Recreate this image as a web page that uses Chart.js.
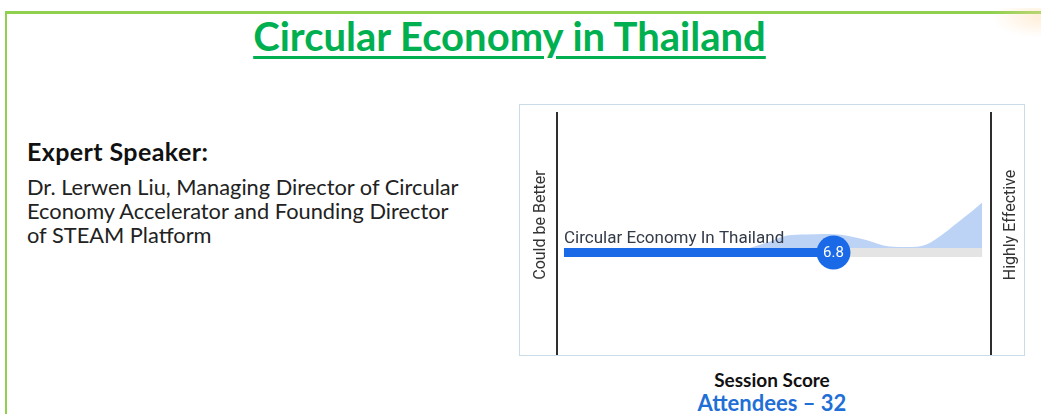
<!DOCTYPE html>
<html>
<head>
<meta charset="utf-8">
<script src="https://cdn.jsdelivr.net/npm/chart.js@4.4.1/dist/chart.umd.min.js"></script>
<style>
  body { margin: 0; width: 1041px; height: 414px; background: #fff; overflow: hidden; position: relative; font-family: Lato, sans-serif; }
  .frame { position: absolute; left: 5px; top: 11px; width: 1100px; height: 500px; border-left: 2px solid #8fd14f; border-top: 3px solid #8fd14f; }
  .glow { position: absolute; right: 0; top: 8px; width: 50px; height: 30px; background: radial-gradient(ellipse at 100% 30%, rgba(255, 218, 170, 0.45), rgba(255, 255, 255, 0) 70%); }
  #title { position: absolute; left: 0; width: 1019px; top: 12px; text-align: center; font-size: 40px; font-weight: 700; color: #00b050; }
  #title span { text-decoration: underline; text-decoration-thickness: 3px; text-underline-offset: 5px; }
  #speaker { position: absolute; left: 27px; top: 136px; font-size: 25px; font-weight: 700; color: #111; letter-spacing: 0.4px; }
  #bio { position: absolute; left: 27px; top: 175px; font-size: 21.8px; line-height: 24px; color: #222; }
  .box { position: absolute; left: 519px; top: 104px; width: 506px; height: 252px; box-sizing: border-box; border: 1px solid #c9dce8; }
  #wrap { position: absolute; left: 519px; top: 104px; width: 506px; height: 252px; }
  #score { position: absolute; left: 0; width: 1544px; top: 368px; text-align: center; font-size: 19px; font-weight: 700; color: #111; }
  #att { position: absolute; left: 0; width: 1544px; top: 389px; text-align: center; font-size: 22px; font-weight: 700; color: #1f6fd6; }
</style>
</head>
<body>
<div class="frame"></div>
<div class="glow"></div>
<div id="title"><span>Circular Economy in Thailand</span></div>
<div id="speaker">Expert Speaker:</div>
<div id="bio">Dr. Lerwen Liu, Managing Director of Circular<br>Economy Accelerator and Founding Director<br>of STEAM Platform</div>
<div class="box"></div>
<div id="wrap"><canvas id="chart"></canvas></div>
<div id="score">Session Score</div>
<div id="att">Attendees – 32</div>

<script>
// score scale runs from 1 to 10
const scoreMin = 1;
const scoreMax = 10;
const sessionName = "Circular Economy In Thailand";
const sessionScore = 6.8;
const leftLabel = "Could be Better";
const rightLabel = "Highly Effective";

// response distribution (light blue area), height above the track
const densityX = [5.0, 5.4, 5.8, 6.2, 6.6, 7.0, 7.5, 8.0, 8.4, 8.8, 9.2, 9.5, 9.8, 10];
const densityY = [0, 6, 12.5, 13.5, 14, 13, 8, 1.5, 1, 3.5, 15.5, 26.5, 37.5, 45.5];

const trackY = -4.5; // centre of the score bar, just under the area baseline

const labelPlugin = {
  id: "labels",
  beforeDatasetsDraw(chart) {
    const { ctx, chartArea } = chart;
    // the two end rules
    ctx.save();
    ctx.strokeStyle = "#2e2e2e";
    ctx.lineWidth = 2;
    [chartArea.left, chartArea.right].forEach(px => {
      ctx.beginPath();
      ctx.moveTo(px, chartArea.top);
      ctx.lineTo(px, chartArea.bottom);
      ctx.stroke();
    });
    ctx.restore();
  },
  afterDraw(chart) {
    const { ctx, chartArea, scales } = chart;
    const x = scales.x, y = scales.y;
    ctx.save();
    // session name above the bar
    ctx.fillStyle = "#333a48";
    ctx.font = "17px Roboto";
    ctx.textAlign = "left";
    ctx.textBaseline = "alphabetic";
    ctx.fillText(sessionName, x.getPixelForValue(scoreMin), y.getPixelForValue(0) - 5);

    // score in the circle
    const pt = chart.getDatasetMeta(2).data[0];
    ctx.fillStyle = "#fff";
    ctx.font = "15px Roboto";
    ctx.textAlign = "center";
    ctx.textBaseline = "middle";
    ctx.fillText(sessionScore.toFixed(1), pt.x, pt.y + 1);

    // end labels, both reading bottom to top
    ctx.fillStyle = "#333";
    ctx.font = "16px Roboto";
    const cy = 225 - 104;
    [[chartArea.left - 16, leftLabel], [chartArea.right + 20, rightLabel]].forEach(([lx, t]) => {
      ctx.save();
      ctx.translate(lx, cy);
      ctx.rotate(-Math.PI / 2);
      ctx.fillText(t, 0, 0);
      ctx.restore();
    });
    ctx.restore();
  }
};

new Chart(document.getElementById("chart"), {
  type: "line",
  data: {
    datasets: [
      {
        // grey full-range track
        data: [{ x: scoreMin, y: trackY }, { x: scoreMax, y: trackY }],
        borderColor: "#e4e4e4",
        borderWidth: 9,
        borderCapStyle: "butt",
        pointRadius: 0,
        order: 3
      },
      {
        // distribution area
        data: densityX.map((v, i) => ({ x: v, y: densityY[i] })),
        backgroundColor: "#bcd3f6",
        borderWidth: 0,
        fill: "origin",
        cubicInterpolationMode: "monotone",
        pointRadius: 0,
        order: 4
      },
      {
        // score marker
        data: [{ x: sessionScore, y: trackY }],
        showLine: false,
        pointRadius: 17,
        pointBackgroundColor: "#1a6ae8",
        pointBorderWidth: 0,
        order: 1
      },
      {
        // filled part of the bar
        data: [{ x: scoreMin, y: trackY }, { x: sessionScore, y: trackY }],
        borderColor: "#1a6ae8",
        borderWidth: 9,
        borderCapStyle: "butt",
        pointRadius: 0,
        order: 2
      }
    ]
  },
  options: {
    responsive: true,
    maintainAspectRatio: false,
    animation: false,
    events: [],
    layout: { autoPadding: false, padding: { left: 38, right: 34, top: 8, bottom: 1 } },
    plugins: { legend: { display: false }, tooltip: { enabled: false } },
    scales: {
      x: { type: "linear", min: scoreMin - 0.15, max: scoreMax + 0.19, display: false },
      y: { min: -107, max: 136, display: false }
    }
  },
  plugins: [labelPlugin]
});
</script>
</body>
</html>
